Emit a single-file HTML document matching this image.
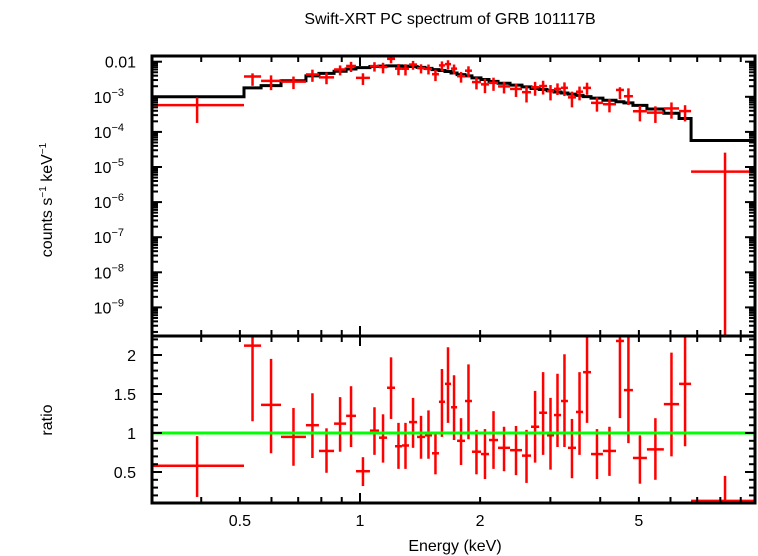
<!DOCTYPE html>
<html><head><meta charset="utf-8"><style>
html,body{margin:0;padding:0;background:#fff;}
svg{display:block;font-family:"Liberation Sans",sans-serif;}
</style></head><body>
<svg id="chart" width="758" height="556" viewBox="0 0 758 556" xmlns="http://www.w3.org/2000/svg">
<text x="450" y="24" font-size="16" text-anchor="middle">Swift-XRT PC spectrum of GRB 101117B</text>
<text transform="translate(52,200) rotate(-90)" font-size="16" text-anchor="middle">counts s<tspan font-size="10" dy="-6">−1</tspan><tspan dy="6"> keV</tspan><tspan font-size="10" dy="-6">−1</tspan></text>
<text transform="translate(52,420) rotate(-90)" font-size="16" text-anchor="middle">ratio</text>
<text x="455" y="551" font-size="16" text-anchor="middle">Energy (keV)</text>
<g id="g"></g>
</svg>
<script>
const binEdges=[0.298,0.512,0.565,0.634,0.732,0.789,0.861,0.923,0.977,1.059,1.116,1.169,1.224,1.274,1.327,1.390,1.455,1.515,1.577,1.633,1.691,1.751,1.833,1.908,2.01,2.105,2.218,2.377,2.547,2.683,2.812,2.943,3.063,3.19,3.32,3.478,3.623,3.793,4.063,4.381,4.586,4.831,5.237,5.775,6.305,6.757,10.0];
const ratioValues=[0.58,2.12,1.36,0.95,1.10,0.77,1.12,1.22,0.51,1.03,0.94,1.58,0.83,0.84,1.14,0.95,0.97,0.74,1.40,1.63,1.33,0.90,1.41,0.76,0.73,0.91,0.81,0.78,0.71,1.08,1.26,0.97,1.23,1.41,0.81,1.27,1.78,0.73,0.77,2.18,1.55,0.68,0.79,1.37,1.63,0.13];
const ratioHigh=[0.96,2.6,1.95,1.32,1.51,1.06,1.46,1.60,0.69,1.33,1.24,1.97,1.13,1.13,1.45,1.22,1.29,1.00,1.82,2.10,1.74,1.19,1.88,1.04,1.05,1.28,1.08,1.09,1.04,1.54,1.78,1.45,1.76,2.01,1.18,1.78,2.5,1.05,1.08,2.6,2.6,0.97,1.19,2.03,2.4,0.45];
const ratioLow=[0.18,1.15,0.74,0.58,0.68,0.49,0.76,0.82,0.32,0.72,0.62,1.18,0.54,0.54,0.81,0.67,0.67,0.47,0.95,1.13,0.91,0.59,0.92,0.47,0.41,0.54,0.51,0.46,0.36,0.62,0.72,0.53,0.82,0.82,0.42,0.72,1.13,0.41,0.45,1.19,0.87,0.35,0.40,0.70,0.83,0.0];
const modelValues=[1.0e-3,1.79e-3,2.09e-3,2.86e-3,3.93e-3,4.65e-3,5.36e-3,6.2e-3,6.79e-3,7.27e-3,7.51e-3,7.63e-3,7.63e-3,7.51e-3,7.27e-3,6.91e-3,6.44e-3,5.96e-3,5.6e-3,5.24e-3,4.77e-3,4.29e-3,3.93e-3,3.46e-3,3.1e-3,2.74e-3,2.44e-3,2.15e-3,1.91e-3,1.73e-3,1.61e-3,1.49e-3,1.37e-3,1.28e-3,1.19e-3,1.1e-3,1.01e-3,9.2e-4,8.0e-4,7.2e-4,6.7e-4,5.7e-4,4.5e-4,3.4e-4,2.4e-4,5.7e-5];
const xTickLabels=[0.5,1,2,5];
const ratioTickLabels=[0.5,1,1.5,2];
const countExps=[-2,-3,-4,-5,-6,-7,-8,-9];

const L=152,R=755,T=56,MID=336,B=503;
const X=e=>360+399*Math.log10(e);
const YT=v=>61.7+35.1*(-2-Math.log10(v));
const YR=r=>433-78*(r-1);
const NS="http://www.w3.org/2000/svg";
const g=document.getElementById('g');
function el(tag,attrs,parent){const e=document.createElementNS(NS,tag);for(const k in attrs)e.setAttribute(k,attrs[k]);(parent||g).appendChild(e);return e;}
const clipT=(y)=>Math.max(T,Math.min(MID,y));
const clipR=(y)=>Math.max(MID,Math.min(B,y));
const clipX=(x)=>Math.max(L,Math.min(R,x));

let d='';
for(let i=0;i<modelValues.length;i++){
  const x0=clipX(X(binEdges[i])),x1=clipX(X(binEdges[i+1])),y=YT(modelValues[i]);
  d+=(i===0?'M':'L')+x0+' '+y+'L'+x1+' '+y;
}
const model=el('path',{d:d,fill:'none',stroke:'#000','stroke-width':3});



for(let i=0;i<ratioValues.length;i++){
  const xa=clipX(X(binEdges[i])),xb=clipX(X(binEdges[i+1]));
  const xc=X(Math.sqrt(binEdges[i]*binEdges[i+1]));
  const m=modelValues[i];
  const yc=YT(ratioValues[i]*m);
  const yh=clipT(YT(ratioHigh[i]*m));
  const yl=ratioLow[i]>0?clipT(YT(ratioLow[i]*m)):MID;
  const gp=el('g',{stroke:'#f00','stroke-width':2.5});
  
  
  el('line',{x1:xa,x2:xb,y1:yc,y2:yc},gp);
  el('line',{x1:xc,x2:xc,y1:yh,y2:yl},gp);
  const gr=el('g',{stroke:'#f00','stroke-width':2.5});
  
  
  const rc=YR(ratioValues[i]);
  if(rc>=MID&&rc<=B) el('line',{x1:xa,x2:xb,y1:rc,y2:rc},gr);
  el('line',{x1:xc,x2:xc,y1:clipR(YR(ratioHigh[i])),y2:clipR(YR(ratioLow[i]))},gr);
}
const u=el('line',{x1:L,x2:R,y1:YR(1),y2:YR(1),stroke:'#0f0','stroke-width':3});



const fr=el('g',{stroke:'#000','stroke-width':3,fill:'none'});


el('rect',{x:L,y:T,width:R-L,height:B-T},fr);
el('line',{x1:L,x2:R,y1:MID,y2:MID},fr);

const tk=el('g',{stroke:'#000','stroke-width':2});


const minors=[];
for(const dec of [0.1,1]) for(let k=1;k<10;k++){const v=k*dec;if(X(v)>L+1&&X(v)<R-1)minors.push(v);}
for(const v of minors){
  const x=X(v),len=(v===1||v===10)?10:6;
  for(const [y0,s] of [[T,1],[MID,-1],[MID,1],[B,-1]]) el('line',{x1:x,x2:x,y1:y0,y2:y0+s*len},tk);
}
for(const v of xTickLabels){
  const t=el('text',{x:X(v),y:526,'font-size':16,'text-anchor':'middle'});
  t.textContent=String(v);
  
  
}
for(let e=-10;e<=-2;e++){
  for(let k=1;k<10;k++){
    const v=k*Math.pow(10,e),y=YT(v);
    if(y<T+1||y>MID-1)continue;
    const len=k===1?10:6;
    el('line',{x1:L,x2:L+len,y1:y,y2:y},tk);
    el('line',{x1:R,x2:R-len,y1:y,y2:y},tk);
  }
}
for(const e of countExps){
  const t=el('text',{x:e===-2?136:124,y:YT(Math.pow(10,e))+6,'font-size':16,'text-anchor':'end'});
  
  
  if(e===-2){t.textContent='0.01';}
  else{t.textContent='10';const s=el('tspan',{'font-size':11,dy:-7},t);s.textContent='−'+(-e);}
}
for(let k=2;k<=22;k++){
  const r=k/10,y=YR(r);
  if(y<MID+1||y>B-1)continue;
  const len=(k%5===0)?10:6;
  el('line',{x1:L,x2:L+len,y1:y,y2:y},tk);
  el('line',{x1:R,x2:R-len,y1:y,y2:y},tk);
}
for(const r of ratioTickLabels){
  const t=el('text',{x:136,y:YR(r)+6,'font-size':16,'text-anchor':'end'});
  t.textContent=String(r);
  
  
}
</script>
</body></html>
